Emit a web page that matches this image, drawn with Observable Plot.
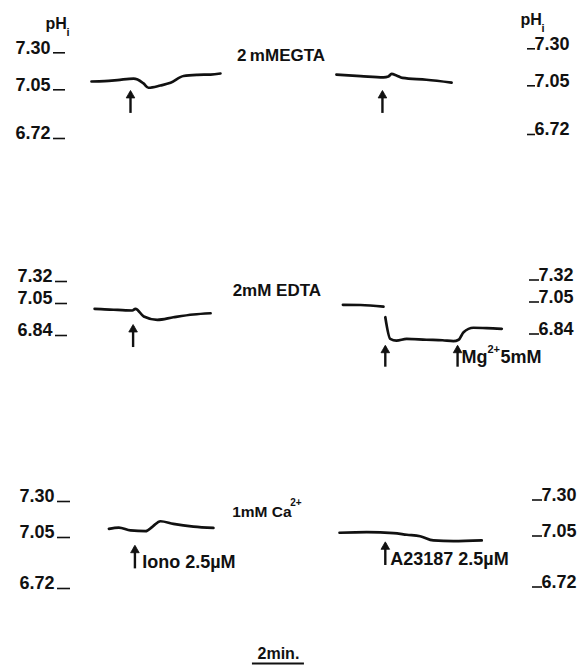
<!DOCTYPE html>
<html><head><meta charset="utf-8">
<script src="https://cdn.jsdelivr.net/npm/d3@7"></script>
<script src="https://cdn.jsdelivr.net/npm/@observablehq/plot@0.6"></script>
<style>
body{margin:0;background:#fff;}
#chart svg{display:block;}
</style></head><body><div id="chart"></div>
<script>
// ---- shared time axis (minutes) ----
const timeDomain = [0, 22.5];
const scaleBarStart = 9.69, scaleBarMinutes = 2, scaleBarLabel = "2min.";

// ---- Panel 1 : 2 mM EGTA ----
const egtaTicks = [6.72, 7.05, 7.30];
const egtaLeftT  = [3.50, 4.00, 4.50, 5.12, 5.27, 5.50, 5.69, 6.15, 6.54, 7.04, 7.58, 8.08, 8.46];
const egtaLeftPH = [7.106, 7.109, 7.116, 7.126, 7.120, 7.093, 7.064, 7.079, 7.097, 7.143, 7.151, 7.153, 7.160];
const egtaRightT  = [12.92, 13.85, 14.73, 14.92, 15.04, 15.23, 15.46, 16.38, 17.35];
const egtaRightPH = [7.153, 7.143, 7.134, 7.140, 7.157, 7.147, 7.130, 7.118, 7.099];
const egtaArrowT = [5.00, 14.69], egtaArrowBase = [6.890, 6.890], egtaArrowTip = [7.032, 7.032];
const egtaLabel = "2\u2009mMEGTA", egtaLabelT = 10.79, egtaLabelPH = 7.282;

// ---- Panel 2 : 2 mM EDTA ----
const edtaTicks = [6.84, 7.05, 7.32];
const edtaLeftT  = [3.62, 4.00, 4.35, 4.81, 5.07, 5.19, 5.51, 6.03, 6.65, 7.42, 8.08];
const edtaLeftPH = [7.015, 7.012, 7.009, 7.005, 7.004, 7.015, 6.965, 6.943, 6.960, 6.978, 6.986];
const edtaRightAT  = [13.17, 13.85, 14.73];
const edtaRightAPH = [7.041, 7.040, 7.030];
const edtaRightBT  = [14.80, 14.99, 15.23, 15.62, 16.38, 17.00, 17.42, 17.62, 17.81, 18.19, 18.70, 19.28];
const edtaRightBPH = [6.960, 6.818, 6.807, 6.818, 6.812, 6.809, 6.803, 6.812, 6.862, 6.891, 6.889, 6.884];
const edtaArrowT = [5.10, 14.80, 17.58], edtaArrowBase = [6.761, 6.632, 6.632], edtaArrowTip = [6.899, 6.763, 6.763];
const edtaLabel = "2mM EDTA", edtaLabelT = 10.63, edtaLabelPH = 7.21;
const mgLabelT = 17.73, mgLabelPH = 6.698;

// ---- Panel 3 : 1 mM Ca2+ ----
const caTicks = [6.72, 7.05, 7.30];
const caLeftT  = [4.17, 4.55, 5.00, 5.58, 5.85, 6.15, 6.65, 7.42, 8.19];
const caLeftPH = [7.110, 7.119, 7.099, 7.094, 7.126, 7.163, 7.145, 7.126, 7.117];
const caRightT  = [13.04, 14.09, 15.12, 15.63, 16.14, 16.65, 17.42, 18.51];
const caRightPH = [7.083, 7.087, 7.080, 7.069, 7.059, 7.031, 7.026, 7.031];
const caArrowT = [5.17, 14.80], caArrowBase = [6.847, 6.869], caArrowTip = [6.987, 7.009];
const caLabelT = 8.91, caLabelPH = 7.226;
const ionoLabel = "Iono 2.5\u00b5M", ionoT = 5.45, ionoPH = 6.890;
const a23Label = "A23187 2.5\u00b5M", a23T = 14.99, a23PH = 6.912;

const FONT = "'Liberation Sans', Arial, Helvetica, sans-serif";
const INK = "#111";
const pts = (t, v) => t.map((d, i) => ({t: d, ph: v[i]}));
const fmt = d3.format(".2f");

function panel(o) {
  const marks = [
    Plot.axisY(o.ticks, {anchor: "left", tickSize: o.lTick, fill: "none", strokeWidth: 1.6, label: null}),
    Plot.axisY(o.ticks, {anchor: "left", tickSize: o.lTick, tickPadding: 3, stroke: "none", dy: -5,
      tickFormat: fmt, fontSize: 18, fontWeight: "bold", fill: INK, label: null}),
    Plot.axisY(o.ticks, {anchor: "right", tickSize: o.rTick, fill: "none", strokeWidth: 1.6, dy: o.rDy, label: null}),
    Plot.axisY(o.ticks, {anchor: "right", tickSize: o.rTick, tickPadding: 0, stroke: "none", dy: o.rDy - 5,
      tickFormat: fmt, fontSize: 18, fontWeight: "bold", fill: INK, label: null}),
    ...o.traces.map(tr => Plot.line(tr, {x: "t", y: "ph", curve: "monotone-x", stroke: INK, strokeWidth: 2.7, strokeLinejoin: "round", strokeLinecap: "round"})),
    Plot.ruleX(o.arrows, {x: "t", y1: "base", y2: "tip", stroke: INK, strokeWidth: 2.4, dy: 0}),
    Plot.dot(o.arrows, {x: "t", y: "tip", symbol: "triangle", r: 3.2, fill: INK, stroke: INK, strokeWidth: 0.8, dy: 3}),
    ...o.marks
  ];
  return Plot.plot({
    width: 586, height: o.height,
    marginLeft: o.mL, marginRight: o.mR, marginTop: 0, marginBottom: 0,
    x: {type: "linear", domain: timeDomain, range: [0, 585], axis: null},
    y: {type: "linear", domain: o.ticks, range: o.yRange, axis: null},
    style: {fontFamily: FONT, fontWeight: "bold", background: "white", color: INK},
    marks
  });
}
const arr = (t, b, tip) => t.map((d, i) => ({t: d, base: b[i], tip: tip[i]}));
const txt = (s, t, ph, opts) => Plot.text([{s, t, ph}], {x: "t", y: "ph", text: "s", fill: INK, fontWeight: "bold", ...opts});

const p1 = panel({
  height: 200, ticks: egtaTicks, yRange: [138, 89.3, 52.3],
  mL: 65, lTick: 12, mR: 60, rTick: 8, rDy: -4,
  traces: [pts(egtaLeftT, egtaLeftPH), pts(egtaRightT, egtaRightPH)],
  arrows: arr(egtaArrowT, egtaArrowBase, egtaArrowTip),
  marks: [
    txt(egtaLabel, egtaLabelT, egtaLabelPH, {fontSize: 17, letterSpacing: 1}),
    txt("pH", 1.73, 7.498, {fontSize: 16, textAnchor: "start"}),
    txt("i", 1.73, 7.498, {fontSize: 11, textAnchor: "start", dx: 21, dy: 9}),
    txt("pH", 20.0, 7.525, {fontSize: 16, textAnchor: "start"}),
    txt("i", 20.0, 7.525, {fontSize: 11, textAnchor: "start", dx: 21, dy: 9})
  ]
});

const p2 = panel({
  height: 220, ticks: edtaTicks, yRange: [135, 103, 81],
  mL: 67, lTick: 12, mR: 58, rTick: 10, rDy: -1.5,
  traces: [pts(edtaLeftT, edtaLeftPH), pts(edtaRightAT, edtaRightAPH), pts(edtaRightBT, edtaRightBPH)],
  arrows: arr(edtaArrowT, edtaArrowBase, edtaArrowTip),
  marks: [
    txt(edtaLabel, edtaLabelT, edtaLabelPH, {fontSize: 17, letterSpacing: 1}),
    txt("Mg", mgLabelT, mgLabelPH, {fontSize: 18, textAnchor: "start"}),
    txt("2+", mgLabelT, mgLabelPH, {fontSize: 11, textAnchor: "start", dx: 26, dy: -8}),
    txt("5mM", mgLabelT, mgLabelPH, {fontSize: 18, textAnchor: "start", dx: 39, letterSpacing: 0.5})
  ]
});

const p3 = panel({
  height: 220, ticks: caTicks, yRange: [168, 117, 81],
  mL: 70, lTick: 13, mR: 55, rTick: 10, rDy: -1.5,
  traces: [pts(caLeftT, caLeftPH), pts(caRightT, caRightPH)],
  arrows: arr(caArrowT, caArrowBase, caArrowTip),
  marks: [
    txt("1mM Ca", caLabelT, caLabelPH, {fontSize: 15.5, textAnchor: "start"}),
    txt("2+", caLabelT, caLabelPH, {fontSize: 10, textAnchor: "start", dx: 58, dy: -9}),
    txt(ionoLabel, ionoT, ionoPH, {fontSize: 18, textAnchor: "start"}),
    txt(a23Label, a23T, a23PH, {fontSize: 18, textAnchor: "start", letterSpacing: 1})
  ]
});

const p4 = Plot.plot({
  width: 586, height: 26, marginLeft: 0, marginRight: 0, marginTop: 0, marginBottom: 0,
  x: {type: "linear", domain: timeDomain, range: [0, 585], axis: null},
  y: {type: "linear", domain: [0, 1], range: [23, 13], axis: null},
  style: {fontFamily: FONT, fontWeight: "bold", background: "white"},
  marks: [
    Plot.ruleY([{y: 0, a: scaleBarStart, b: scaleBarStart + scaleBarMinutes}], {y: "y", x1: "a", x2: "b", stroke: INK, strokeWidth: 2}),
    Plot.text([{s: scaleBarLabel, t: scaleBarStart + scaleBarMinutes / 2, y: 1}], {x: "t", y: "y", text: "s", fontSize: 16, fontWeight: "bold", fill: INK})
  ]
});

const c = document.getElementById("chart");
[p1, p2, p3, p4].forEach(p => c.appendChild(p));
</script></body></html>
